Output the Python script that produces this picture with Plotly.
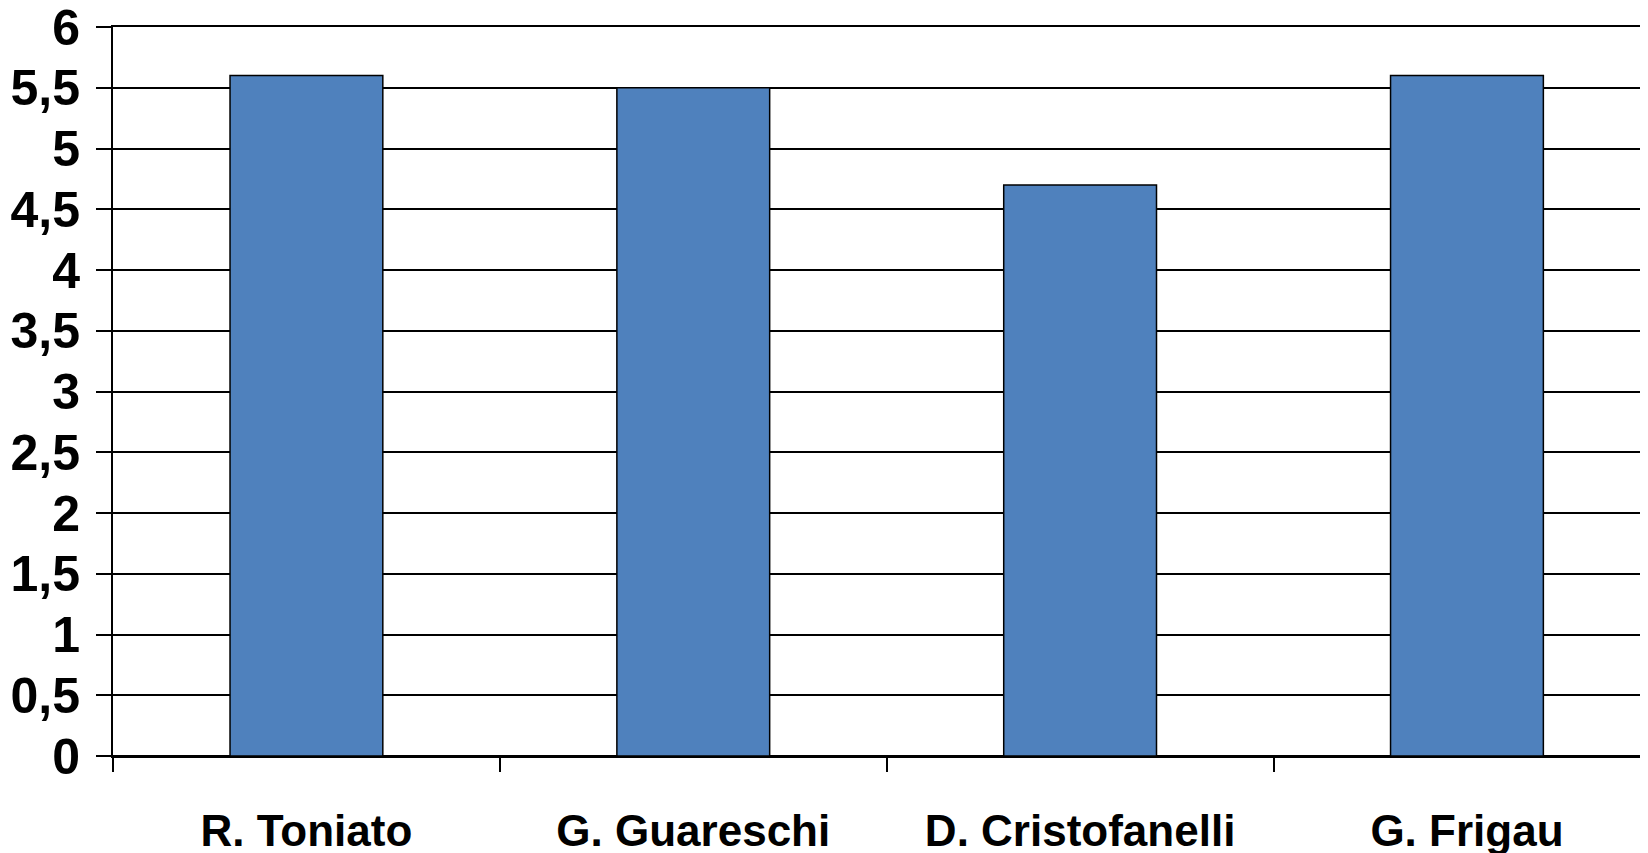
import plotly.graph_objects as go

# data
names = ["R. Toniato", "G. Guareschi", "D. Cristofanelli", "G. Frigau"]
scores = [5.6, 5.5, 4.7, 5.6]
y_ticks = [0, 0.5, 1, 1.5, 2, 2.5, 3, 3.5, 4, 4.5, 5, 5.5, 6]
y_tick_text = ["0", "0,5", "1", "1,5", "2", "2,5", "3", "3,5", "4", "4,5", "5", "5,5", "6"]

fig = go.Figure()
fig.add_trace(go.Bar(
    x=names, y=scores,
    marker=dict(color="#4F81BD", line=dict(color="black", width=1.5)),
    width=0.395,
))

# page body has an 8px margin, so the figure is a bit smaller and shifted
fig.update_layout(
    width=1640, height=845,
    paper_bgcolor="white", plot_bgcolor="white",
    margin=dict(l=105, r=0, t=19, b=97),
    showlegend=False,
    font=dict(family="Liberation Sans, Arial, sans-serif", color="black"),
)

fig.update_xaxes(
    range=[-0.5, 3.468],
    automargin=False,
    tickson="boundaries",
    ticks="outside", ticklen=14, tickwidth=1.5, tickcolor="black",
    showline=True, mirror=True, linecolor="black", linewidth=2,  # top line = gridline at 6
    showgrid=False,
    tickfont=dict(size=44, weight="bold"),
    ticklabelstandoff=35,
    ticklabeloverflow="allow",
)
fig.update_yaxes(
    range=[0, 6],
    automargin=False,
    tickvals=y_ticks, ticktext=y_tick_text,
    ticks="outside", ticklen=15, tickwidth=2, tickcolor="black",
    showline=True, linecolor="black", linewidth=2,
    showgrid=True, gridcolor="black", gridwidth=2,
    zeroline=True, zerolinecolor="black", zerolinewidth=2,
    tickfont=dict(size=50, weight="bold"),
    ticklabelstandoff=6,
    ticklabeloverflow="allow",
)

fig.write_html("out.html")
